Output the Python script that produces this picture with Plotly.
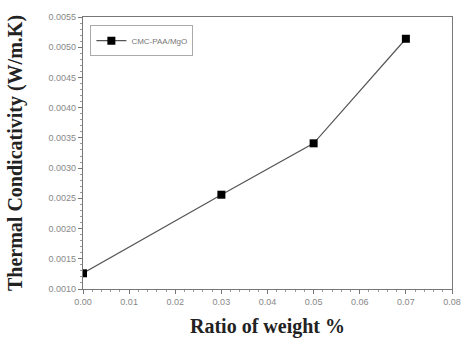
import plotly.graph_objects as go

x_vals = [0.00, 0.03, 0.05, 0.07]
y_vals = [0.00126, 0.00256, 0.00341, 0.00514]
series_name = "CMC-PAA/MgO"

fig = go.Figure()
fig.add_trace(go.Scatter(
    x=x_vals, y=y_vals, mode="lines+markers", name=series_name,
    line=dict(color="#555555", width=1.2),
    marker=dict(symbol="square", size=8, color="black"),
))

axis_common = dict(
    showline=True, linecolor="#777777", linewidth=1.2, mirror=True,
    ticks="outside", ticklen=4, tickcolor="#777777", showgrid=False, zeroline=False,
    tickfont=dict(family="Liberation Sans", size=9, color="#888888"),
    minor=dict(ticks="outside", ticklen=2, tickcolor="#999999"),
    automargin=False,
)

fig.update_layout(
    width=463, height=338,
    margin=dict(l=83, r=11, t=17, b=49),
    paper_bgcolor="white", plot_bgcolor="white",
    showlegend=True,
    legend=dict(x=0.02, y=0.97, xanchor="left", yanchor="top",
                bordercolor="#aaaaaa", borderwidth=1, bgcolor="white",
                font=dict(family="Liberation Sans", size=8, color="#777777"),
                itemwidth=30, tracegroupgap=0),
    xaxis=dict(range=[0, 0.08], dtick=0.01, tickformat=".2f",
               title=dict(text="<b>Ratio of weight %</b>", standoff=13,
                          font=dict(family="Liberation Serif", size=20, color="#222222")),
               **axis_common),
    yaxis=dict(range=[0.0010, 0.0055], dtick=0.0005, tickformat=".4f",
               title=dict(text="<b>Thermal Condicativity (W/m.K)</b>", standoff=20,
                          font=dict(family="Liberation Serif", size=20, color="#222222")),
               **axis_common),
)

fig.write_html("out.html")
